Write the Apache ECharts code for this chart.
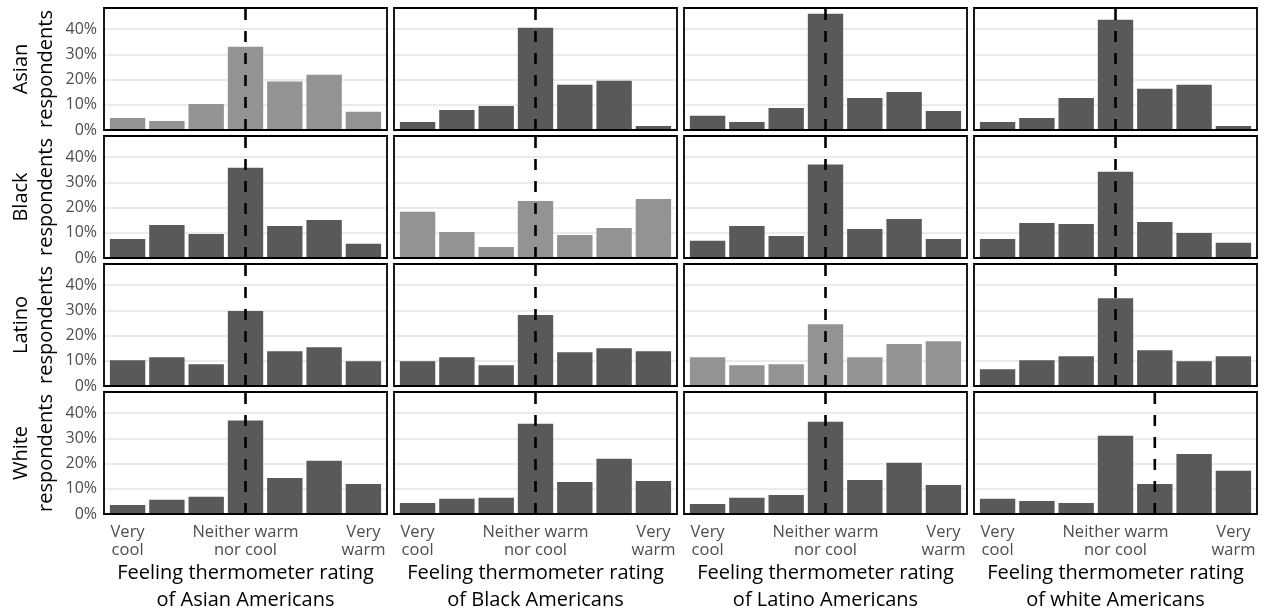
<!DOCTYPE html>
<html>
<head>
<meta charset="utf-8">
<script src="https://cdn.jsdelivr.net/npm/echarts@6/dist/echarts.min.js"></script>
<style>
  html, body { margin: 0; padding: 0; background: #fff; }
  #chart { width: 1267px; height: 613px; }
</style>
</head>
<body>
<div id="chart"></div>
<script>
// Rating scale positions (1 = very cool ... 7 = very warm) and the labelled ticks
const ratingPositions = [1, 2, 3, 4, 5, 6, 7];
const tickPositions = [1, 4, 7];
const tickLabels = ['Very\ncool', 'Neither warm\nnor cool', 'Very\nwarm'];
const yTickValues = [0, 0.1, 0.2, 0.3, 0.4];

// Rows: respondent group; columns: group being rated
const respondentGroups = ['Asian', 'Black', 'Latino', 'White'];
const ratedGroups = ['Asian Americans', 'Black Americans', 'Latino Americans', 'white Americans'];

// Share of respondents (in %) choosing each rating, one list per rated group
const asianRespondents = [
  [4.8, 3.6, 10.3, 33.0, 19.2, 21.9, 7.2],
  [3.2, 7.9, 9.5, 40.5, 17.9, 19.5, 1.6],
  [5.6, 3.2, 8.7, 46.1, 12.7, 15.1, 7.5],
  [3.2, 4.8, 12.7, 43.7, 16.3, 17.9, 1.6]
];
const blackRespondents = [
  [7.5, 13.1, 9.5, 35.8, 12.7, 15.1, 5.6],
  [18.3, 10.3, 4.4, 22.6, 9.1, 11.9, 23.4],
  [6.8, 12.7, 8.7, 37.0, 11.5, 15.5, 7.5],
  [7.5, 13.9, 13.5, 34.2, 14.3, 9.9, 6.0]
];
const latinoRespondents = [
  [10.2, 11.4, 8.6, 29.7, 13.8, 15.4, 9.8],
  [9.8, 11.4, 8.2, 28.1, 13.4, 15.0, 13.8],
  [11.4, 8.2, 8.6, 24.5, 11.4, 16.6, 17.7],
  [6.6, 10.2, 11.8, 34.8, 14.2, 9.8, 11.8]
];
const whiteRespondents = [
  [3.6, 5.6, 6.8, 37.0, 14.3, 21.1, 11.9],
  [4.4, 6.0, 6.4, 35.8, 12.7, 21.9, 13.1],
  [4.0, 6.4, 7.5, 36.6, 13.5, 20.3, 11.5],
  [6.0, 5.2, 4.4, 31.0, 11.9, 23.8, 17.1]
];

// Median rating for each panel (dashed line)
const asianMedians = [4, 4, 4, 4];
const blackMedians = [4, 4, 4, 4];
const latinoMedians = [4, 4, 4, 4];
const whiteMedians = [4, 4, 4, 5];

// Panels shown in the lighter shade: [row, column]
const lightPanels = [[0, 0], [1, 1], [2, 2]];

const shares = [asianRespondents, blackRespondents, latinoRespondents, whiteRespondents];
const medians = [asianMedians, blackMedians, latinoMedians, whiteMedians];

const Y_MAX = 0.4834;
const X_MIN = 0.4, X_MAX = 7.6;
const BAR_WIDTH = 0.9;

const DARK = '#595959';
const LIGHT = '#939393';
const TEXT_GREY = '#4d4d4d';
const FONT = '"Open Sans", "Noto Sans", sans-serif';

const grids = [], xAxes = [], yAxes = [], series = [];

for (let r = 0; r < 4; r++) {
  for (let c = 0; c < 4; c++) {
    const idx = r * 4 + c;
    const isBottom = r === 3;
    const isLeft = c === 0;

    grids.push({
      left: 104 + c * 290,
      top: 8 + r * 128,
      width: 283,
      height: 122,
      show: true,
      z: 10,
      backgroundColor: 'transparent',
      borderColor: '#000',
      borderWidth: 1.8,
      containLabel: false,
      outerBoundsMode: 'none'
    });

    xAxes.push({
      type: 'value',
      gridIndex: idx,
      min: X_MIN,
      max: X_MAX,
      splitLine: { show: false },
      axisLine: { show: false },
      axisTick: { show: false },
      axisLabel: {
        show: isBottom,
        customValues: tickPositions,
        formatter: v => tickLabels[tickPositions.indexOf(v)] || '',
        color: TEXT_GREY,
        fontFamily: FONT,
        fontSize: 16.5,
        lineHeight: 17.5,
        margin: 10
      },
      name: isBottom ? 'Feeling thermometer rating\nof ' + ratedGroups[c] : '',
      nameLocation: 'middle',
      nameGap: 46,
      nameTextStyle: {
        color: '#000',
        fontFamily: FONT,
        fontSize: 20,
        lineHeight: 27
      }
    });

    yAxes.push({
      type: 'value',
      gridIndex: idx,
      min: 0,
      max: Y_MAX,
      interval: 0.1,
      axisLine: { show: false },
      axisTick: { show: false },
      splitLine: { show: true, lineStyle: { color: '#ebebeb', width: 2 } },
      axisLabel: {
        show: isLeft,
        customValues: yTickValues,
        formatter: v => Math.round(v * 100) + '%',
        color: TEXT_GREY,
        fontFamily: FONT,
        fontSize: 16,
        margin: 7
      },
      name: isLeft ? respondentGroups[r] + '\nrespondents' : '',
      nameLocation: 'middle',
      nameRotate: 90,
      nameGap: 45,
      nameTextStyle: {
        color: '#000',
        fontFamily: FONT,
        fontSize: 20,
        lineHeight: 25
      }
    });

    const isLight = lightPanels.some(p => p[0] === r && p[1] === c);
    const color = isLight ? LIGHT : DARK;
    const data = ratingPositions.map((p, i) => [p, shares[r][c][i] / 100]);

    series.push({
      type: 'custom',
      xAxisIndex: idx,
      yAxisIndex: idx,
      z: 2,
      data: data,
      renderItem: function (params, api) {
        const x = api.value(0);
        const y = api.value(1);
        const topLeft = api.coord([x - BAR_WIDTH / 2, y]);
        const bottomRight = api.coord([x + BAR_WIDTH / 2, 0]);
        return {
          type: 'rect',
          shape: {
            x: topLeft[0],
            y: topLeft[1],
            width: bottomRight[0] - topLeft[0],
            height: bottomRight[1] - topLeft[1]
          },
          style: { fill: color }
        };
      }
    });

    const m = medians[r][c];
    series.push({
      type: 'line',
      xAxisIndex: idx,
      yAxisIndex: idx,
      z: 5,
      symbol: 'none',
      silent: true,
      data: [[m, 0], [m, Y_MAX]],
      lineStyle: { color: '#000', width: 2.6, type: [11, 11], cap: 'butt' }
    });
  }
}

const chart = echarts.init(document.getElementById('chart'), null, { renderer: 'canvas' });
chart.setOption({
  animation: false,
  backgroundColor: '#fff',
  grid: grids,
  xAxis: xAxes,
  yAxis: yAxes,
  series: series
});
</script>
</body>
</html>
